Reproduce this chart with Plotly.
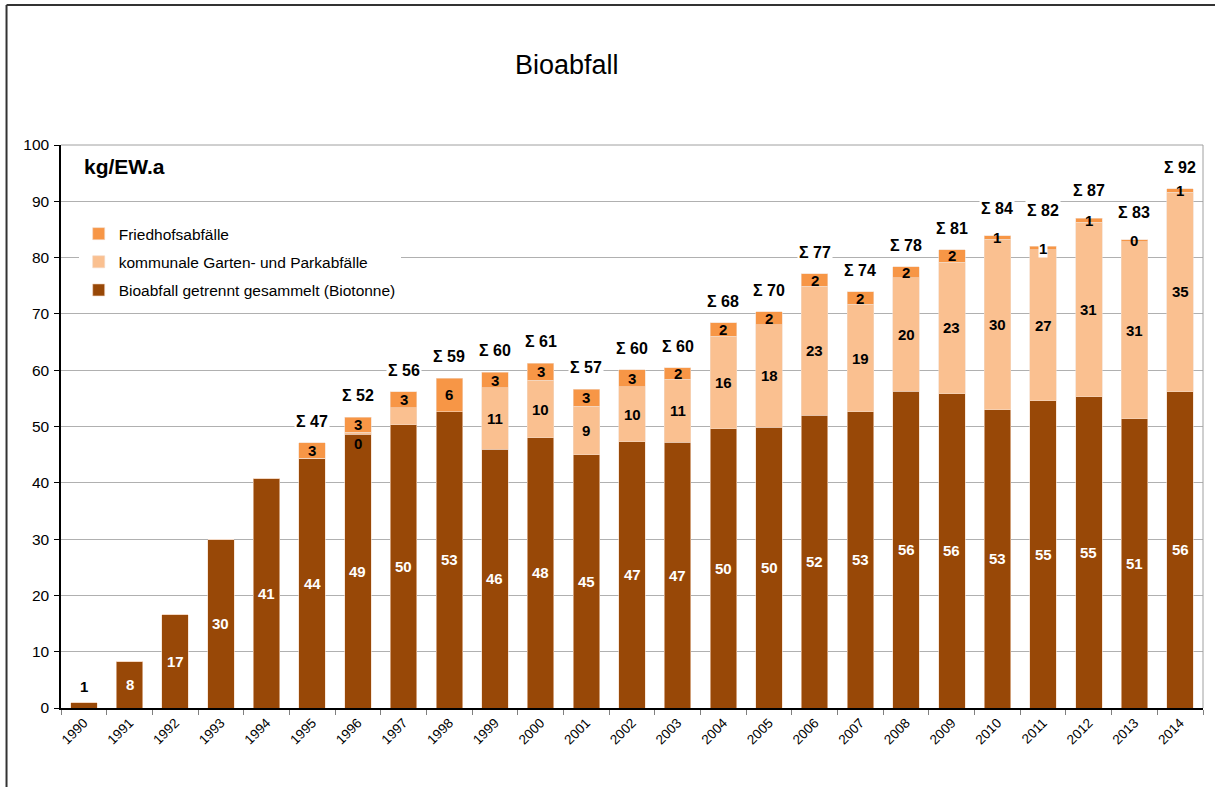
import plotly.graph_objects as go

years = [str(y) for y in range(1990, 2015)]
bio = [0.9, 8.2, 16.6, 29.9, 40.8, 44.4, 48.6, 50.3, 52.6, 46.0, 48.0, 45.0, 47.3,
       47.2, 49.6, 49.9, 52.0, 52.6, 56.3, 55.8, 53.0, 54.6, 55.3, 51.4, 56.2]
garden = [0, 0, 0, 0, 0, 0, 0.4, 3.0, 0, 10.9, 10.2, 8.6, 9.8,
          11.2, 16.4, 18.2, 22.9, 19.1, 20.1, 23.4, 30.3, 26.8, 31.0, 31.4, 35.4]
fried = [0, 0, 0, 0, 0, 2.7, 2.6, 2.9, 6.0, 2.7, 3.0, 3.0, 3.0,
         2.0, 2.4, 2.3, 2.2, 2.2, 2.0, 2.2, 0.6, 0.6, 0.7, 0.4, 0.6]
garden_labeled = ["1996"] + [str(y) for y in range(1999, 2015)]
fried_labeled = [str(y) for y in range(1995, 2015)]
sum_labeled = [str(y) for y in range(1995, 2015)]
names = ["Bioabfall getrennt gesammelt (Biotonne)",
         "kommunale Garten- und Parkabfälle",
         "Friedhofsabfälle"]
colors = ["#984807", "#FAC090", "#F79646"]

FONT = "Liberation Sans, Arial, sans-serif"

fig = go.Figure()
for i, (vals, name, col) in enumerate(zip([bio, garden, fried], names, colors)):
    fig.add_trace(go.Bar(
        x=years, y=vals, name=name,
        marker=dict(color=col, line=dict(width=0.6, color="#f3d9c4")),
        legendgroup=f"g{i}", legendrank=3 - i, hoverinfo="x+y+name"))

ann = []
# data labels (x given as category index)
for i, yr in enumerate(years):
    b, g, f = bio[i], garden[i], fried[i]
    if b < 3:
        ann.append(dict(x=i, y=b, text=f"<b>{round(b)}</b>", showarrow=False,
                        yanchor="bottom", yshift=6,
                        font=dict(size=15, color="black", family=FONT)))
    else:
        ann.append(dict(x=i, y=b / 2, text=f"<b>{round(b)}</b>", showarrow=False,
                        font=dict(size=15, color="white", family=FONT)))
    if yr in garden_labeled:
        ann.append(dict(x=i, y=b + g / 2, text=f"<b>{round(g)}</b>", showarrow=False,
                        yshift=-10 if g < 1 else 0,
                        font=dict(size=15, color="black", family=FONT)))
    if yr in fried_labeled:
        ann.append(dict(x=i, y=b + g + f / 2, text=f"<b>{round(f)}</b>", showarrow=False,
                        bgcolor="white" if yr == "2011" else None,
                        borderpad=0,
                        font=dict(size=15, color="black", family=FONT)))
    if yr in sum_labeled:
        tot = b + g + f
        if yr == "2011":
            shift = 25
        elif f >= 1.5 or yr == "2014":
            shift = 11
        else:
            shift = 17
        ann.append(dict(x=i, y=tot, text=f"<b>Σ {round(tot)}</b>", showarrow=False,
                        yanchor="bottom", yshift=shift,
                        bgcolor="white", borderpad=1,
                        font=dict(size=16, color="black", family=FONT)))

ann.append(dict(xref="paper", yref="paper", x=0.4427, y=1.142, yanchor="middle",
                text="Bioabfall",
                showarrow=False, font=dict(size=27, color="black", family=FONT)))
ann.append(dict(xref="paper", yref="paper", x=0.018, y=0.961, xanchor="left",
                yanchor="middle", text="<b>kg/EW.a</b>", showarrow=False,
                font=dict(size=21, color="black", family=FONT)))

shapes = [
    # outer frame (left and top)
    dict(type="line", xref="paper", yref="paper", x0=-0.0477, x1=-0.0477, y0=-0.3, y1=1.2487,
         line=dict(color="#333333", width=2)),
    dict(type="line", xref="paper", yref="paper", x0=-0.0477, x1=1.2, y0=1.2487, y1=1.2487,
         line=dict(color="#333333", width=2)),
    # plot frame top & right
    dict(type="line", xref="paper", yref="paper", x0=0, x1=1, y0=1, y1=1,
         line=dict(color="#a0a0a0", width=1)),
    dict(type="line", xref="paper", yref="paper", x0=1, x1=1, y0=0, y1=1,
         line=dict(color="#a0a0a0", width=1)),
]

fig.update_layout(
    width=1215, height=787,
    margin=dict(l=61, r=12, t=145, b=79),
    barmode="stack", bargap=0.42,
    plot_bgcolor="white", paper_bgcolor="white",
    font=dict(family=FONT, color="black"),
    showlegend=True,
    legend=dict(x=0.0155, y=0.872, xanchor="left", yanchor="top",
                bgcolor="white", traceorder="grouped", tracegroupgap=5,
                font=dict(size=15.5, family=FONT, color="black")),
    annotations=ann, shapes=shapes,
)
fig.update_xaxes(type="category", range=[-0.5, len(years) - 0.5],
                 showline=True, linecolor="black", linewidth=1.5,
                 ticks="outside", tickson="boundaries", ticklen=5, tickcolor="#808080",
                 tickangle=-45, tickfont=dict(size=13.5, family=FONT, color="black"),
                 showgrid=False)
fig.update_yaxes(range=[0, 100], dtick=10, showline=True, linecolor="black", linewidth=1.5,
                 ticks="outside", ticklen=5, tickcolor="black",
                 gridcolor="#b0b0b0", gridwidth=1, ticklabelstandoff=2,
                 tickfont=dict(size=15.5, family=FONT, color="black"), zeroline=False)

fig.write_html("out.html", post_script="document.body.style.margin='0';",
               config={"displayModeBar": False})
